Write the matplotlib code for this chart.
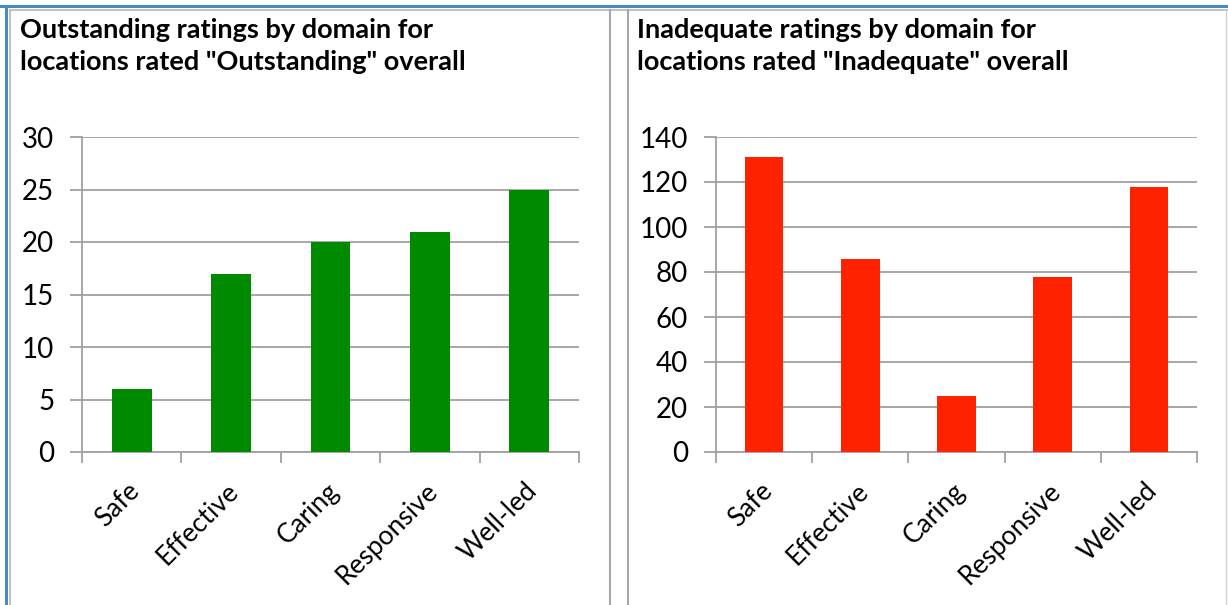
import matplotlib.pyplot as plt
from matplotlib.lines import Line2D
from matplotlib.transforms import ScaledTranslation

plt.rcParams['font.family'] = ['Lato', 'DejaVu Sans']

# data
domains = ['Safe', 'Effective', 'Caring', 'Responsive', 'Well-led']
outstanding = [6, 17, 20, 21, 25]
inadequate = [131, 86, 25, 78, 118]

titles = ['Outstanding ratings by domain for\nlocations rated "Outstanding" overall',
          'Inadequate ratings by domain for\nlocations rated "Inadequate" overall']
ylims = [(0, 30, 5), (0, 140, 20)]
colors = ['#008a00', '#ff2200']

W, H = 1228, 605
fig = plt.figure(figsize=(W / 100, H / 100), dpi=100)


def px(x, y):
    # pixel position (from top-left) -> figure fraction
    return x / W, 1 - y / H


def fig_line(x0, y0, x1, y1, color, lw):
    a, b = px(x0, y0)
    c, d = px(x1, y1)
    fig.add_artist(Line2D([a, c], [b, d], transform=fig.transFigure,
                          color=color, lw=lw))


# panel frames
fig_line(0, 6, W, 6, '#4a8ac4', 2.2)
fig_line(6, 6, 6, H, '#4a8ac4', 2.2)
fig_line(10, 10, W, 10, '#b8b8b8', 1.2)
fig_line(10, 10, 10, H, '#b8b8b8', 1.2)
fig_line(610, 10, 610, H, '#a8a8a8', 1.5)
fig_line(628, 10, 628, H, '#a8a8a8', 1.5)
fig_line(1226, 10, 1226, H, '#d0d0d0', 1.0)

axes_px = [(82, 579), (716, 1197)]
title_x = [20, 637]
data = [outstanding, inadequate]
grid_c = '#a0a0a0'

for i in range(2):
    x0, x1 = axes_px[i]
    l, t = px(x0, 137)
    _, b = px(x0, 452)
    ax = fig.add_axes([l, b, (x1 - x0) / W, t - b])
    xs = range(len(domains))
    ax.bar(xs, data[i], width=0.4, color=colors[i], zorder=3)
    lo, hi, step = ylims[i]
    ax.set_ylim(lo, hi)
    ax.set_xlim(-0.5, len(domains) - 0.5)
    ax.set_yticks(range(lo, hi + 1, step))
    ax.yaxis.grid(True, color=grid_c, lw=1.3, zorder=0)
    for s in ['top', 'right']:
        ax.spines[s].set_visible(False)
    for s in ['left', 'bottom']:
        ax.spines[s].set_color(grid_c)
        ax.spines[s].set_linewidth(1.3)
    ax.set_xticks([k - 0.5 for k in range(len(domains) + 1)])
    ax.set_xticklabels([])
    ax.tick_params(axis='x', length=8, width=1.3, color=grid_c)
    ax.tick_params(axis='y', length=9, width=1.3, color=grid_c,
                   labelsize=20, pad=11)
    off = ScaledTranslation(13 / 100, -26 / 100, fig.dpi_scale_trans)
    for k, name in enumerate(domains):
        ax.text(k, 0, name, rotation=45, ha='right', va='top',
                fontsize=19, transform=ax.get_xaxis_transform() + off)
    tx, ty = px(title_x[i], 18)
    fig.text(tx, ty, titles[i], fontsize=19.5, fontweight='bold',
             va='top', ha='left', linespacing=1.38)

fig.savefig('out.png', dpi=100)
